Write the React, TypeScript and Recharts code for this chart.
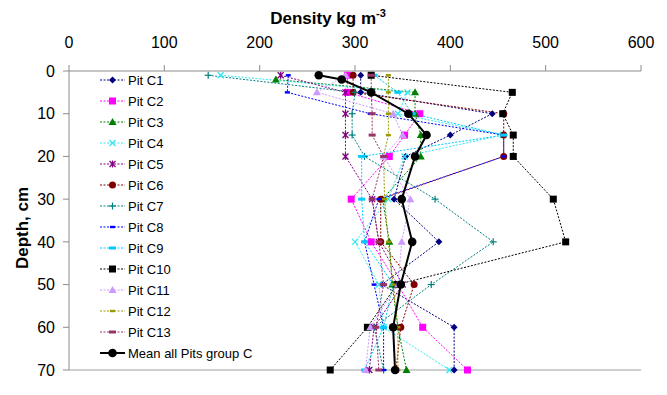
import React from "react";
import {
  Legend,
  Line,
  LineChart,
  ReferenceLine,
  XAxis,
  YAxis,
} from "recharts";

// depth of each sampling level, cm
const depths = [1, 2, 5, 10, 15, 20, 30, 40, 50, 60, 70];

// density, kg m-3 (null = not sampled at that depth)
const pitC1 = [306, null, 306, 444, 400, 353, 341, 388, 328, 404, 404];
const pitC2 = [292, null, 292, 368, 352, 336, 296, 317, 345, 371, 418];
const pitC3 = [null, 217, 363, 363, 369, 369, 329, 336, 339, 345, 354];
const pitC4 = [159, null, 355, 345, 455, 352, 335, 300, 325, 330, 399];
const pitC5 = [222, null, 290, 290, 290, 290, 318, 325, 350, 320, 315];
const pitC6 = [298, null, 298, 456, 456, 456, 327, 327, 362, 348, 343];
const pitC7 = [146, null, 300, 297, 297, 310, 384, 445, 380, 320, 330];
const pitC8 = [230, null, 229, 316, 456, 456, 325, 310, 320, 330, 330];
const pitC9 = [320, null, 345, 360, 456, 307, 307, 310, 340, 330, 310];
const pitC10 = [317, null, 465, 455, 466, 466, 508, 521, 344, 313, 274];
const pitC11 = [290, null, 260, 340, 350, 330, 358, 349, 345, 316, 311];
const pitC12 = [335, null, 335, 335, 335, 330, 331, 335, 340, 345, 345];
const pitC13 = [317, null, 317, 318, 318, 330, 318, 325, 330, 322, 325];
const meanC = [262, 286, 317, 356, 375, 363, 349, 360, 348, 340, 342];

const xTicks = [0, 100, 200, 300, 400, 500, 600];
const yTicks = [0, 10, 20, 30, 40, 50, 60, 70];

type MarkerKind =
  | "diamond"
  | "square"
  | "triangle"
  | "cross"
  | "star"
  | "circle"
  | "plus"
  | "dash"
  | "bar"
  | "bigSquare"
  | "mean";

type Series = {
  key: string;
  name: string;
  values: (number | null)[];
  color: string;
  marker: MarkerKind;
};

const series: Series[] = [
  { key: "c1", name: "Pit C1", values: pitC1, color: "#000080", marker: "diamond" },
  { key: "c2", name: "Pit C2", values: pitC2, color: "#ff00ff", marker: "square" },
  { key: "c3", name: "Pit C3", values: pitC3, color: "#008000", marker: "triangle" },
  { key: "c4", name: "Pit C4", values: pitC4, color: "#33e6f0", marker: "cross" },
  { key: "c5", name: "Pit C5", values: pitC5, color: "#800080", marker: "star" },
  { key: "c6", name: "Pit C6", values: pitC6, color: "#800000", marker: "circle" },
  { key: "c7", name: "Pit C7", values: pitC7, color: "#008080", marker: "plus" },
  { key: "c8", name: "Pit C8", values: pitC8, color: "#0000ff", marker: "dash" },
  { key: "c9", name: "Pit C9", values: pitC9, color: "#00ccff", marker: "bar" },
  { key: "c10", name: "Pit C10", values: pitC10, color: "#000000", marker: "bigSquare" },
  { key: "c11", name: "Pit C11", values: pitC11, color: "#cc99ff", marker: "triangle" },
  { key: "c12", name: "Pit C12", values: pitC12, color: "#999900", marker: "dash" },
  { key: "c13", name: "Pit C13", values: pitC13, color: "#993366", marker: "bar" },
];

const mean: Series = {
  key: "mean",
  name: "Mean all Pits group C",
  values: meanC,
  color: "#000000",
  marker: "mean",
};

const chartData = depths.map((depth, i) => {
  const row: Record<string, number | null> = { depth };
  [...series, mean].forEach((s) => {
    row[s.key] = s.values[i];
  });
  return row;
});

const FONT = "Arial, 'Liberation Sans', sans-serif";

function Marker({ kind, color, x, y }: { kind: MarkerKind; color: string; x: number; y: number }) {
  switch (kind) {
    case "diamond":
      return (
        <polygon
          points={`${x},${y - 3.5} ${x + 3.5},${y} ${x},${y + 3.5} ${x - 3.5},${y}`}
          fill={color}
        />
      );
    case "square":
      return <rect x={x - 3.5} y={y - 3.5} width={7} height={7} fill={color} />;
    case "bigSquare":
      return <rect x={x - 3.5} y={y - 3.5} width={7} height={7} fill={color} />;
    case "triangle":
      return (
        <polygon points={`${x},${y - 4} ${x + 4},${y + 3} ${x - 4},${y + 3}`} fill={color} />
      );
    case "cross":
      return (
        <g stroke={color} strokeWidth={1.3}>
          <line x1={x - 3} y1={y - 3} x2={x + 3} y2={y + 3} />
          <line x1={x - 3} y1={y + 3} x2={x + 3} y2={y - 3} />
        </g>
      );
    case "star":
      return (
        <g stroke={color} strokeWidth={1.3}>
          <line x1={x - 3} y1={y - 3} x2={x + 3} y2={y + 3} />
          <line x1={x - 3} y1={y + 3} x2={x + 3} y2={y - 3} />
          <line x1={x} y1={y - 3.5} x2={x} y2={y + 3.5} />
        </g>
      );
    case "circle":
      return <circle cx={x} cy={y} r={3.5} fill={color} />;
    case "plus":
      return (
        <g stroke={color} strokeWidth={1.2}>
          <line x1={x - 3.5} y1={y} x2={x + 3.5} y2={y} />
          <line x1={x} y1={y - 3.5} x2={x} y2={y + 3.5} />
        </g>
      );
    case "dash":
      return <rect x={x - 2.5} y={y - 1.2} width={5} height={2.4} fill={color} />;
    case "bar":
      return <rect x={x - 3.5} y={y - 1.5} width={7} height={3} fill={color} />;
    case "mean":
      return <circle cx={x} cy={y} r={4.3} fill={color} />;
  }
  return null;
}

const dotFor = (s: Series) => (props: any) => {
  const { cx, cy, index, value } = props;
  const k = `${s.key}-${index}`;
  if (value == null || !Number.isFinite(cx) || !Number.isFinite(cy)) return <g key={k} />;
  return (
    <g key={k}>
      <Marker kind={s.marker} color={s.color} x={cx} y={cy} />
    </g>
  );
};

function LegendBox() {
  const rows = [...series, mean];
  return (
    <svg width={170} height={300} style={{ display: "block" }}>
      {rows.map((s, i) => {
        const cy = 11 + i * 21;
        const isMean = s.key === "mean";
        return (
          <g key={s.key}>
            <line
              x1={3}
              x2={28}
              y1={cy}
              y2={cy}
              stroke={s.color}
              strokeWidth={isMean ? 2 : 1}
              strokeDasharray={isMean ? undefined : "2 1.5"}
            />
            <Marker kind={s.marker} color={s.color} x={15.5} y={cy} />
            <text x={31} y={cy + 4.5} fontSize={13} fontFamily={FONT} fill="#000">
              {s.name}
            </text>
          </g>
        );
      })}
    </svg>
  );
}

export default function App() {
  return (
    <div style={{ position: "absolute", left: 0, top: 0, width: 667, height: 395, background: "#fff" }}>
      <LineChart
        width={667}
        height={395}
        data={chartData}
        layout="vertical"
        margin={{ top: 11, right: 26, left: 9, bottom: 25 }}
      >
        <XAxis
          type="number"
          orientation="top"
          domain={[0, 600]}
          ticks={xTicks}
          height={60}
          tickSize={6}
          tickMargin={17}
          tick={{ fill: "#000", fontSize: 16, fontFamily: FONT }}
          stroke="#8c8c8c"
          label={{
            content: () => (
              <text x={328} y={24} textAnchor="middle" fontFamily={FONT} fontWeight="bold" fontSize={17} fill="#000">
                Density kg m
                <tspan fontSize={11} dy={-7}>
                  -3
                </tspan>
              </text>
            ),
          }}
        />
        <YAxis
          type="number"
          dataKey="depth"
          domain={[0, 70]}
          ticks={yTicks}
          width={60}
          tickSize={6}
          tickMargin={8}
          tick={{ fill: "#000", fontSize: 16, fontFamily: FONT }}
          stroke="#8c8c8c"
          label={{
            content: () => (
              <text
                x={22}
                y={228}
                transform="rotate(-90 22 228)"
                textAnchor="middle"
                dominantBaseline="central"
                fontFamily={FONT}
                fontWeight="bold"
                fontSize={17}
                fill="#000"
              >
                Depth, cm
              </text>
            ),
          }}
        />
        <ReferenceLine y={70} stroke="#a0a0a0" strokeWidth={1} />
        <Legend
          layout="vertical"
          align="center"
          verticalAlign="middle"
          content={() => <LegendBox />}
          wrapperStyle={{ position: "absolute", left: 97, top: 69, width: 170, height: 300 }}
        />
        {series.map((s) => (
          <Line
            key={s.key}
            dataKey={s.key}
            name={s.name}
            stroke={s.color}
            strokeWidth={1}
            strokeDasharray="2 1.5"
            connectNulls
            dot={dotFor(s)}
            activeDot={false}
            isAnimationActive={false}
          />
        ))}
        <Line
          dataKey={mean.key}
          name={mean.name}
          stroke="#000"
          strokeWidth={2}
          connectNulls
          dot={dotFor(mean)}
          activeDot={false}
          isAnimationActive={false}
        />
      </LineChart>
    </div>
  );
}
